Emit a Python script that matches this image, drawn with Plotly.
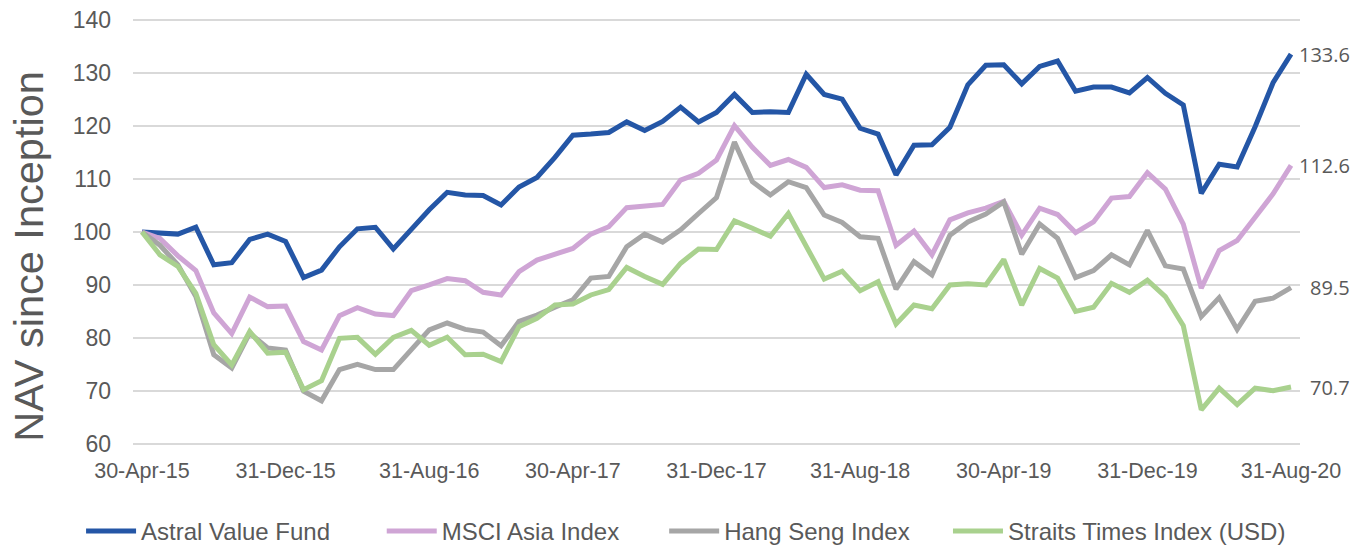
import pandas as pd
import plotly.graph_objects as go

dates = pd.date_range("2015-04-30", "2020-08-31", freq="ME")
categories = [d.strftime("%d-%b-%y") for d in dates]

astral = [100.0, 99.8, 99.6, 100.9, 93.8, 94.2, 98.6, 99.6, 98.2,
          91.4, 92.8, 97.2, 100.6, 100.9, 96.8, 100.5, 104.2, 107.5, 107.0, 106.9, 105.1,
          108.5, 110.3, 114.1, 118.3, 118.5, 118.8, 120.8, 119.2, 120.9, 123.6, 120.8,
          122.6, 126.0, 122.6, 122.7, 122.6, 129.8, 126.0, 125.1, 119.6, 118.5, 110.8,
          116.4, 116.5, 119.8, 127.8, 131.5, 131.6, 128.0, 131.3, 132.3, 126.6, 127.4,
          127.4, 126.3, 129.2, 126.2, 124.0, 107.3, 112.8, 112.3, 119.9, 128.2, 133.6]

msci = [100.0, 98.8, 95.5, 92.7, 84.7, 80.8, 87.7, 85.9, 86.0,
        79.3, 77.7, 84.2, 85.7, 84.5, 84.2, 88.9, 90.0, 91.2, 90.8, 88.6, 88.1,
        92.5, 94.7, 95.8, 96.9, 99.6, 101.0, 104.6, 105.0, 105.2, 109.8, 111.1,
        113.6, 120.1, 116.0, 112.6, 113.7, 112.2, 108.4, 108.9, 107.9, 107.8, 97.5,
        100.2, 95.7, 102.3, 103.6, 104.5, 105.8, 99.4, 104.5, 103.3, 99.9, 101.9,
        106.4, 106.7, 111.2, 108.1, 101.5, 89.4, 96.5, 98.4, 102.8, 107.2, 112.6]

hang_seng = [100.0, 97.5, 93.8, 87.8, 76.8, 74.3, 80.9, 78.1, 77.7,
             69.9, 68.1, 74.0, 75.0, 74.0, 74.0, 77.7, 81.5, 82.8, 81.6, 81.1, 78.5,
             83.1, 84.3, 85.8, 87.2, 91.3, 91.6, 97.2, 99.6, 98.1, 100.4, 103.5,
             106.5, 117.0, 109.5, 107.0, 109.5, 108.4, 103.2, 101.8, 99.1, 98.8, 89.2,
             94.4, 91.9, 99.4, 101.9, 103.4, 105.7, 95.8, 101.5, 98.8, 91.4, 92.7,
             95.7, 93.8, 100.3, 93.6, 93.0, 84.0, 87.6, 81.6, 86.9, 87.5, 89.5]

straits = [100.0, 95.7, 93.5, 88.4, 78.7, 74.9, 81.2, 77.1, 77.3,
           70.2, 71.9, 79.9, 80.1, 76.9, 80.1, 81.4, 78.6, 80.1, 76.8, 76.9, 75.5,
           82.1, 83.7, 86.2, 86.4, 88.1, 89.1, 93.3, 91.6, 90.1, 94.1, 96.8,
           96.7, 102.1, 100.7, 99.2, 103.5, 97.2, 91.1, 92.6, 88.9, 90.6, 82.6,
           86.2, 85.5, 90.0, 90.2, 90.0, 94.8, 86.2, 93.1, 91.3, 85.0, 85.8,
           90.3, 88.6, 90.9, 87.8, 82.3, 66.4, 70.5, 67.4, 70.5, 70.0, 70.7]

series_names = ["Astral Value Fund", "MSCI Asia Index", "Hang Seng Index", "Straits Times Index (USD)"]
series_values = [astral, msci, hang_seng, straits]
series_colors = ["#2456A6", "#CFA5D5", "#A6A6A6", "#A9D18E"]
legend_pad = [7, 6, 5, 0]  # trailing non-breaking spaces to space legend entries

tick_labels = categories[::8]
y_ticks = [60, 70, 80, 90, 100, 110, 120, 130, 140]

fig = go.Figure()
for name, vals, col, pad in zip(series_names, series_values, series_colors, legend_pad):
    fig.add_trace(go.Scatter(
        x=categories, y=vals, name=name + "\u00a0" * pad, mode="lines",
        line=dict(color=col, width=5),
    ))
    fig.add_annotation(
        x=categories[-1], y=vals[-1], xref="x", yref="y",
        text=f"{vals[-1]:.1f}", showarrow=False,
        xanchor="right", yanchor="middle", xshift=61,
        font=dict(family="Open Sans", size=20, color="#595959"),
    )

fig.add_annotation(
    text="NAV since Inception", textangle=-90, showarrow=False,
    xref="paper", yref="paper", x=-0.0895, y=0.443,
    xanchor="center", yanchor="middle",
    font=dict(family="Liberation Sans", size=41.5, color="#595959"),
)

fig.update_layout(
    width=1365, height=545,
    margin=dict(l=125, r=73, t=10.7, b=107.65, autoexpand=False),
    paper_bgcolor="white", plot_bgcolor="white",
    font=dict(family="Liberation Sans", color="#595959"),
    showlegend=True,
    legend=dict(
        orientation="h", xref="paper", yref="paper",
        x=-0.0445, y=-0.203, xanchor="left", yanchor="middle",
        font=dict(size=24, color="#595959"), itemwidth=50,
        traceorder="normal",
    ),
    xaxis=dict(
        type="category", range=[-0.5, len(categories) - 0.5],
        tickvals=tick_labels, ticktext=tick_labels,
        showgrid=False, showline=False, ticks="", zeroline=False,
        tickfont=dict(size=21.5, color="#595959"),
        ticklabelstandoff=10,
    ),
    yaxis=dict(
        range=[59.75, 140.25], tickmode="array", tickvals=y_ticks,
        showgrid=True, gridcolor="#D9D9D9",
        gridwidth=1.5, zeroline=False, showline=False, ticks="",
        tickfont=dict(size=23, color="#595959"),
        ticklabelstandoff=21, ticklabeloverflow="allow",
    ),
)

fig.write_html("out.html")
